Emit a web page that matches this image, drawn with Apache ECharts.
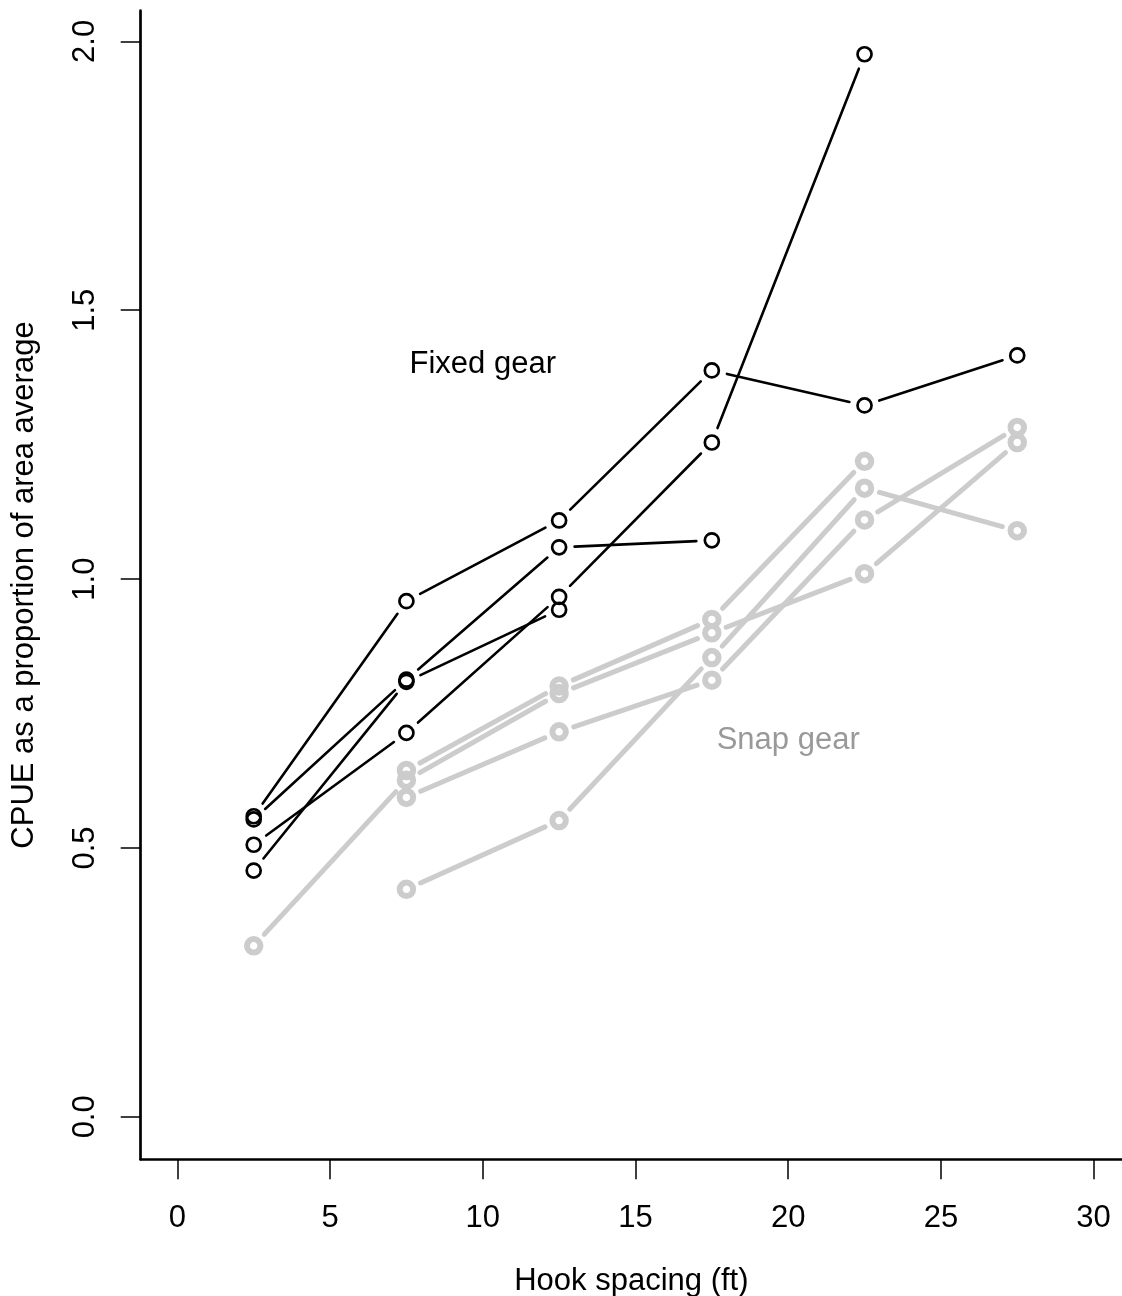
<!DOCTYPE html>
<html>
<head>
<meta charset="utf-8">
<script src="https://cdn.jsdelivr.net/npm/echarts@6/dist/echarts.min.js"></script>
<style>
html,body{margin:0;padding:0;background:#fff;overflow:hidden;}
#chart{width:1122px;height:1296px;}
</style>
</head>
<body>
<div id="chart"></div>
<script>
// ---- data ----
const hookSpacing = [2.5, 7.5, 12.5, 17.5, 22.5, 27.5];

const fixedA = [0.559, 0.959, 1.109, 1.388, 1.323, 1.416];
const fixedB = [0.553, 0.813, 1.059, 1.072, null, null];
const fixedC = [0.506, 0.714, 0.967, 1.254, 1.976, null];
const fixedD = [0.458, 0.809, 0.943, null, null, null];

const snapA = [0.318, 0.626, 0.787, 0.900, 1.010, 1.254];
const snapB = [null, 0.644, 0.801, 0.925, 1.219, null];
const snapC = [null, 0.594, 0.716, 0.812, 1.110, 1.282];
const snapD = [null, 0.423, 0.551, 0.854, 1.169, 1.090];

const xTicks = [0, 5, 10, 15, 20, 25, 30];
const yTicks = [0, 0.5, 1.0, 1.5, 2.0];

const groupLabels = ['Fixed gear', 'Snap gear'];
const groupLabelX = [10, 20];
const groupLabelY = [1.4, 0.7];
const groupLabelColors = ['#000000', '#999999'];

const xTitle = 'Hook spacing (ft)';
const yTitle = 'CPUE as a proportion of area average';

// ---- build ----
const FONT = '"Liberation Sans", Arial, Helvetica, sans-serif';
const FS = 31;
const GAP = 15.5;

function pts(vals) {
  const out = [];
  vals.forEach((v, i) => { if (v !== null) out.push([hookSpacing[i], v]); });
  return out;
}
function segs(vals) {
  const p = pts(vals);
  const out = [];
  for (let i = 0; i + 1 < p.length; i++) out.push([p[i][0], p[i][1], p[i + 1][0], p[i + 1][1]]);
  return out;
}

function lineSeries(vals, color, width) {
  return {
    type: 'custom',
    silent: true,
    data: segs(vals),
    encode: { x: [0, 2], y: [1, 3] },
    z: 2,
    renderItem: function (params, api) {
      const a = api.coord([api.value(0), api.value(1)]);
      const b = api.coord([api.value(2), api.value(3)]);
      const dx = b[0] - a[0], dy = b[1] - a[1];
      const len = Math.sqrt(dx * dx + dy * dy);
      if (len <= 2 * GAP) return null;
      const ux = dx / len, uy = dy / len;
      return {
        type: 'line',
        shape: { x1: a[0] + ux * GAP, y1: a[1] + uy * GAP, x2: b[0] - ux * GAP, y2: b[1] - uy * GAP },
        style: { stroke: color, lineWidth: width, lineCap: 'round', fill: null }
      };
    }
  };
}
function pointSeries(vals, color, size, bw) {
  return {
    type: 'scatter',
    silent: true,
    data: pts(vals),
    symbol: 'circle',
    symbolSize: size,
    z: 3,
    itemStyle: { color: 'rgba(0,0,0,0)', borderColor: color, borderWidth: bw, opacity: 1 }
  };
}

const BLACK = '#000000';
const GRAY = '#cccccc';
const series = [];
[fixedA, fixedB, fixedC, fixedD].forEach(v => {
  series.push(lineSeries(v, BLACK, 2.6));
  series.push(pointSeries(v, BLACK, 14, 2.7));
});
[snapA, snapB, snapC, snapD].forEach(v => {
  series.push(lineSeries(v, GRAY, 5));
  series.push(pointSeries(v, GRAY, 13.5, 6));
});
// group annotations (text placed through the axes' scales)
series.push({
  type: 'custom',
  silent: true,
  z: 5,
  data: groupLabels.map((t, i) => [groupLabelX[i], groupLabelY[i], i]),
  encode: { x: 0, y: 1 },
  renderItem: function (params, api) {
    const i = api.value(2);
    const p = api.coord([api.value(0), api.value(1)]);
    return {
      type: 'text',
      x: p[0], y: p[1],
      style: {
        text: groupLabels[i], fill: groupLabelColors[i],
        font: FS + 'px ' + FONT, align: 'center', verticalAlign: 'middle'
      }
    };
  }
});

const chart = echarts.init(document.getElementById('chart'), null, { renderer: 'canvas', width: 1122, height: 1296 });
chart.setOption({
  animation: false,
  backgroundColor: '#ffffff',
  grid: { left: 140.7, top: 10.7, right: 0, bottom: 136.7, containLabel: false, outerBoundsMode: 'none' },
  xAxis: {
    type: 'value', min: -1.2, max: 30.93,
    name: xTitle, nameLocation: 'middle', nameGap: 107,
    nameTextStyle: { fontFamily: FONT, fontSize: FS, color: '#000' },
    axisLine: { show: true, onZero: false, lineStyle: { color: '#000', width: 2.7 } },
    axisTick: { show: true, inside: false, length: 20, lineStyle: { color: '#000', width: 1.5 }, customValues: xTicks },
    axisLabel: { show: true, margin: 44, fontFamily: FONT, fontSize: FS, color: '#000', customValues: xTicks,
      formatter: v => String(v) },
    splitLine: { show: false }
  },
  yAxis: {
    type: 'value', min: -0.079, max: 2.057,
    name: yTitle, nameLocation: 'middle', nameGap: 101, nameRotate: 90,
    nameTextStyle: { fontFamily: FONT, fontSize: FS, color: '#000' },
    axisLine: { show: true, onZero: false, lineStyle: { color: '#000', width: 2.7 } },
    axisTick: { show: true, inside: false, length: 20, lineStyle: { color: '#000', width: 1.5 }, customValues: yTicks },
    axisLabel: { show: true, margin: 40, rotate: 90, fontFamily: FONT, fontSize: FS, color: '#000', customValues: yTicks,
      formatter: v => Number(v).toFixed(1) },
    splitLine: { show: false }
  },
  series: series
});
</script>
</body>
</html>
